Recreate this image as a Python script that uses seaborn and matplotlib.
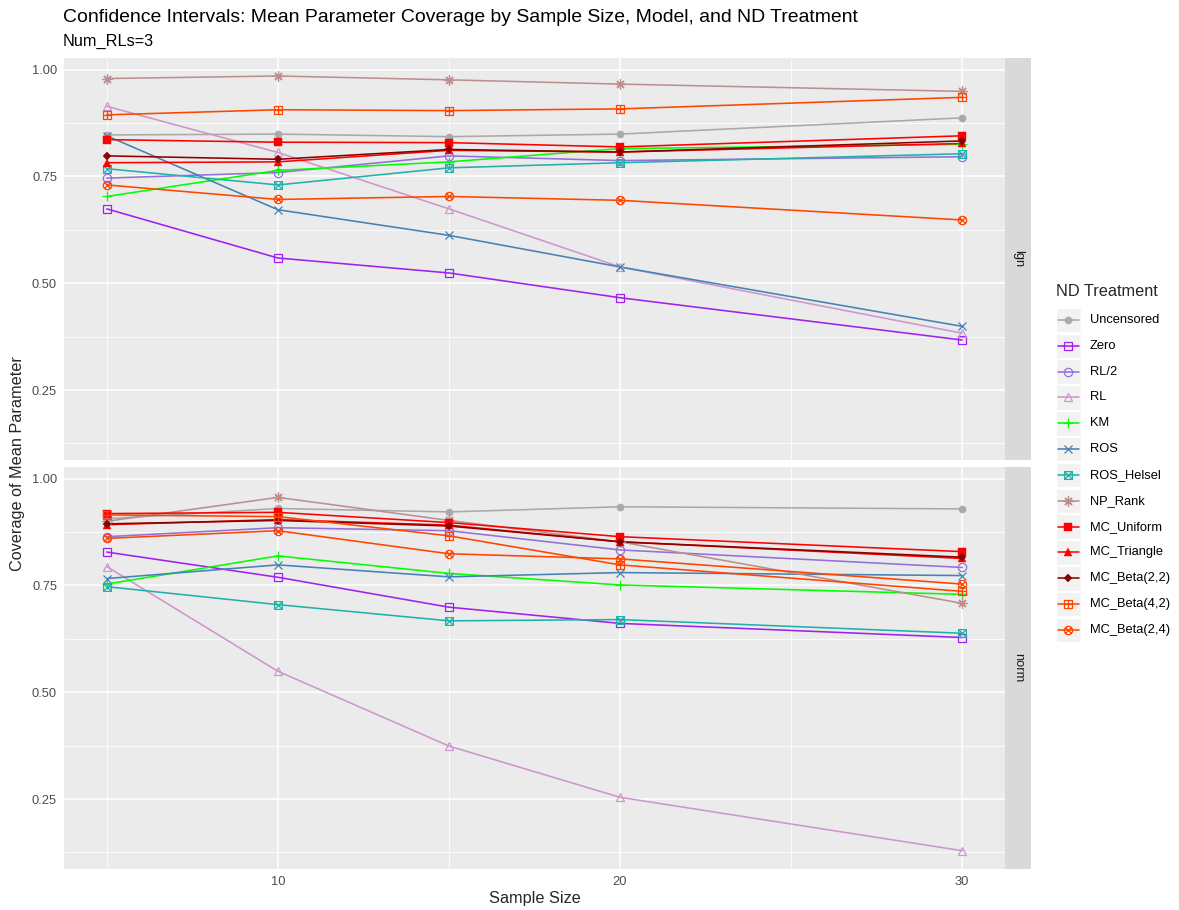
import numpy as np
import pandas as pd
import matplotlib
matplotlib.use("Agg")
import matplotlib.pyplot as plt
import seaborn as sns
from matplotlib.path import Path
from matplotlib.patches import Rectangle
from matplotlib.lines import Line2D

# ---------------------------------------------------------------- data
sample_sizes = [5, 10, 15, 20, 30]
treatments = ["Uncensored", "Zero", "RL/2", "RL", "KM", "ROS", "ROS_Helsel",
              "NP_Rank", "MC_Uniform", "MC_Triangle", "MC_Beta(2,2)",
              "MC_Beta(4,2)", "MC_Beta(2,4)"]
models = ["lgn", "norm"]

# lognormal model
lgn_uncensored = [0.847, 0.849, 0.843, 0.849, 0.887]
lgn_zero = [0.674, 0.559, 0.524, 0.466, 0.367]
lgn_rl_half = [0.746, 0.759, 0.798, 0.787, 0.796]
lgn_rl = [0.914, 0.806, 0.674, 0.538, 0.383]
lgn_km = [0.703, 0.764, 0.784, 0.815, 0.825]
lgn_ros = [0.845, 0.672, 0.612, 0.538, 0.399]
lgn_ros_helsel = [0.768, 0.730, 0.770, 0.782, 0.803]
lgn_np_rank = [0.979, 0.985, 0.976, 0.966, 0.949]
lgn_mc_uniform = [0.836, 0.830, 0.829, 0.819, 0.845]
lgn_mc_triangle = [0.782, 0.784, 0.811, 0.807, 0.827]
lgn_mc_beta22 = [0.798, 0.790, 0.813, 0.807, 0.833]
lgn_mc_beta42 = [0.894, 0.906, 0.904, 0.908, 0.935]
lgn_mc_beta24 = [0.730, 0.696, 0.703, 0.694, 0.648]

# normal model
norm_uncensored = [0.906, 0.930, 0.922, 0.934, 0.929]
norm_zero = [0.828, 0.769, 0.699, 0.661, 0.628]
norm_rl_half = [0.864, 0.885, 0.878, 0.833, 0.792]
norm_rl = [0.794, 0.549, 0.374, 0.254, 0.129]
norm_km = [0.753, 0.819, 0.778, 0.751, 0.729]
norm_ros = [0.766, 0.798, 0.770, 0.780, 0.773]
norm_ros_helsel = [0.747, 0.705, 0.667, 0.670, 0.638]
norm_np_rank = [0.900, 0.956, 0.902, 0.852, 0.708]
norm_mc_uniform = [0.918, 0.921, 0.897, 0.864, 0.829]
norm_mc_triangle = [0.892, 0.904, 0.891, 0.852, 0.813]
norm_mc_beta22 = [0.894, 0.902, 0.889, 0.852, 0.816]
norm_mc_beta42 = [0.915, 0.911, 0.866, 0.798, 0.736]
norm_mc_beta24 = [0.860, 0.878, 0.824, 0.812, 0.753]

series = {
    "lgn": [lgn_uncensored, lgn_zero, lgn_rl_half, lgn_rl, lgn_km, lgn_ros,
            lgn_ros_helsel, lgn_np_rank, lgn_mc_uniform, lgn_mc_triangle,
            lgn_mc_beta22, lgn_mc_beta42, lgn_mc_beta24],
    "norm": [norm_uncensored, norm_zero, norm_rl_half, norm_rl, norm_km,
             norm_ros, norm_ros_helsel, norm_np_rank, norm_mc_uniform,
             norm_mc_triangle, norm_mc_beta22, norm_mc_beta42, norm_mc_beta24],
}

rows = []
for m in models:
    for t, vals in zip(treatments, series[m]):
        for n, v in zip(sample_sizes, vals):
            rows.append({"model": m, "treatment": t, "n": n, "coverage": v})
df = pd.DataFrame(rows)

# ---------------------------------------------------------------- styles
palette = {
    "Uncensored": "#A9A9A9", "Zero": "#A020F0", "RL/2": "#9370DB",
    "RL": "#CD96CD", "KM": "#00FF00", "ROS": "#4682B4",
    "ROS_Helsel": "#20B2AA", "NP_Rank": "#BC8F8F", "MC_Uniform": "#FF0000",
    "MC_Triangle": "#FF0000", "MC_Beta(2,2)": "#8B0000",
    "MC_Beta(4,2)": "#FF4500", "MC_Beta(2,4)": "#FF4500",
}

sq = [(-1, -1), (1, -1), (1, 1), (-1, 1), (-1, -1)]
sq_codes = [Path.MOVETO, Path.LINETO, Path.LINETO, Path.LINETO, Path.CLOSEPOLY]
square_plus = Path(sq + [(0, -1), (0, 1), (-1, 0), (1, 0)],
                   sq_codes + [Path.MOVETO, Path.LINETO, Path.MOVETO, Path.LINETO])
square_cross = Path(sq + [(-1, -1), (1, 1), (-1, 1), (1, -1)],
                    sq_codes + [Path.MOVETO, Path.LINETO, Path.MOVETO, Path.LINETO])
d = np.sqrt(0.5)
circle_cross = Path.make_compound_path(
    Path.unit_circle(),
    Path([(-d, -d), (d, d), (-d, d), (d, -d)],
         [Path.MOVETO, Path.LINETO, Path.MOVETO, Path.LINETO]))

# marker, size (pt), filled
marker_spec = {
    "Uncensored": ("o", 5.2, True),
    "Zero": ("s", 5.6, False),
    "RL/2": ("o", 6.0, False),
    "RL": ("^", 6.4, False),
    "KM": ("+", 7.6, False),
    "ROS": ("x", 5.8, False),
    "ROS_Helsel": (square_cross, 5.6, False),
    "NP_Rank": ((8, 2, 0), 7.2, False),
    "MC_Uniform": ("s", 5.8, True),
    "MC_Triangle": ("^", 6.4, True),
    "MC_Beta(2,2)": ("D", 3.9, True),
    "MC_Beta(4,2)": (square_plus, 5.6, False),
    "MC_Beta(2,4)": (circle_cross, 6.0, False),
}

FS = 1.06  # text scale
W, H = 1179, 910
sns.set_theme(style="darkgrid")
plt.rcParams["font.family"] = ["Liberation Sans", "DejaVu Sans"]

fig = plt.figure(figsize=(W / 100, H / 100), dpi=100)


def fx(x):
    return x / W


def fy(y):
    return 1 - y / H


panel_left, panel_right = 64, 1005
panels = {"lgn": (57.7, 460), "norm": (466.7, 869)}

ymin, ymax = df["coverage"].min(), df["coverage"].max()
ypad = 0.05 * (ymax - ymin)
xmin, xmax = min(sample_sizes), max(sample_sizes)
xpad = 0.05 * (xmax - xmin)

panel_bg = "#EBEBEB"
axes = {}
for i, m in enumerate(models):
    top, bot = panels[m]
    ax = fig.add_axes([fx(panel_left), fy(bot), (panel_right - panel_left) / W,
                       (bot - top) / H])
    axes[m] = ax
    ax.set_facecolor(panel_bg)
    for s in ax.spines.values():
        s.set_visible(False)

    sub = df[df["model"] == m]
    # connecting lines first, then the point symbols on top
    sns.lineplot(data=sub, x="n", y="coverage", hue="treatment",
                 hue_order=treatments, palette=palette, linewidth=1.15,
                 estimator=None, legend=False, ax=ax)
    for t in treatments:
        mk, ms, filled = marker_spec[t]
        s = sub[sub["treatment"] == t]
        sns.lineplot(data=s, x="n", y="coverage", color=palette[t],
                     linestyle="none", marker=mk, markersize=ms,
                     markerfacecolor=palette[t] if filled else "none",
                     markeredgecolor=palette[t],
                     markeredgewidth=0.3 if filled else 0.9,
                     estimator=None, legend=False, ax=ax)

    ax.set_xlim(xmin - xpad, xmax + xpad)
    ax.set_ylim(ymin - ypad, ymax + ypad)
    ax.set_xticks([10, 20, 30])
    ax.set_xticklabels(["10", "20", "30"])
    ax.set_xticks([5, 15, 25], minor=True)
    ax.set_yticks([0.25, 0.50, 0.75, 1.00])
    ax.set_yticklabels(["0.25", "0.50", "0.75", "1.00"])
    ax.set_yticks([0.125, 0.375, 0.625, 0.875], minor=True)
    ax.grid(which="major", color="white", linewidth=1.1)
    ax.grid(which="minor", color="white", linewidth=0.55)
    ax.set_axisbelow(True)
    ax.tick_params(axis="both", which="major", length=2.75, width=0.8,
                   color="#333333", labelsize=8.8 * FS, labelcolor="#4D4D4D",
                   pad=2.2)
    ax.tick_params(axis="both", which="minor", length=0)
    if m == "lgn":
        ax.tick_params(axis="x", which="major", length=0, labelbottom=False)
    ax.set_xlabel("")
    ax.set_ylabel("")

    # facet strip on the right
    sax = fig.add_axes([fx(panel_right), fy(bot), 26 / W, (bot - top) / H])
    sax.set_facecolor("#D9D9D9")
    sax.set_xticks([])
    sax.set_yticks([])
    for s in sax.spines.values():
        s.set_visible(False)
    sax.text(0.5, 0.5, m, rotation=270, ha="center", va="center",
             fontsize=8.8 * FS, color="#1A1A1A", transform=sax.transAxes)

# ---------------------------------------------------------------- titles
fig.text(fx(63), fy(17), "Confidence Intervals: Mean Parameter Coverage by "
         "Sample Size, Model, and ND Treatment", fontsize=13.2 * FS,
         ha="left", va="center", color="black")
fig.text(fx(63), fy(41), "Num_RLs=3", fontsize=11 * FS, ha="left",
         va="center", color="black")
fig.text(fx((panel_left + panel_right) / 2), fy(899), "Sample Size",
         fontsize=11 * FS, ha="center", va="center")
fig.text(fx(18), fy((57.7 + 869) / 2), "Coverage of Mean Parameter",
         fontsize=11 * FS, ha="center", va="center", rotation=90)

# ---------------------------------------------------------------- legend
lax = fig.add_axes([0, 0, 1, 1], facecolor="none")
lax.set_xlim(0, W)
lax.set_ylim(H, 0)
lax.axis("off")
lax.text(1056, 291, "ND Treatment", fontsize=11 * FS, ha="left", va="center")
for i, t in enumerate(treatments):
    cy = 320 + i * 25.83
    lax.add_patch(Rectangle((1056, cy - 12.3), 24.6, 24.6, facecolor="#F2F2F2",
                            edgecolor="white", linewidth=1))
    lax.add_line(Line2D([1058, 1078.6], [cy, cy], color=palette[t],
                        linewidth=1.15))
    mk, ms, filled = marker_spec[t]
    lax.add_line(Line2D([1068.3], [cy], linestyle="none", marker=mk,
                        markersize=ms, color=palette[t],
                        markerfacecolor=palette[t] if filled else "none",
                        markeredgecolor=palette[t],
                        markeredgewidth=0.3 if filled else 0.9))
    lax.text(1090, cy, t, fontsize=8.8 * FS, ha="left", va="center",
             color="black")

fig.savefig("out.png", dpi=100)
